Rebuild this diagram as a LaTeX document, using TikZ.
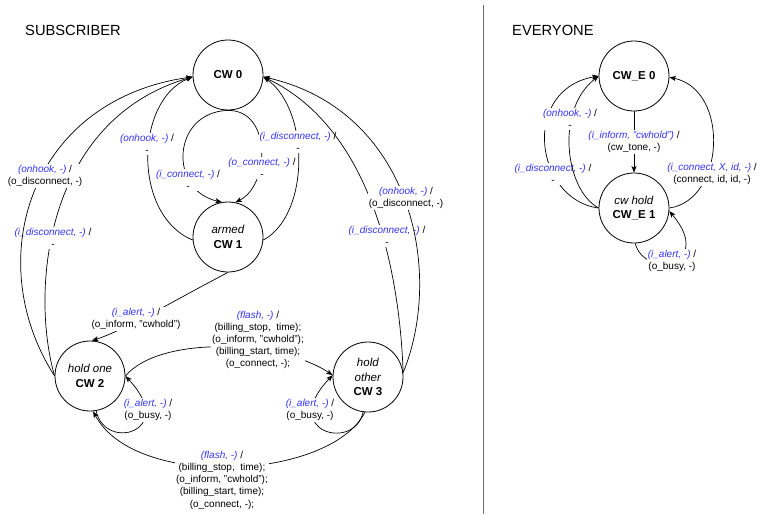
\documentclass[tikz,border=0pt]{standalone}
\usepackage{fontspec}
\setmainfont{Liberation Sans}
\usetikzlibrary{arrows.meta}
\definecolor{evblue}{RGB}{51,51,255}
\definecolor{sepgray}{RGB}{110,110,110}
% input event in blue italics, followed by the slash
\newcommand\inev[1]{\textcolor{evblue}{\itshape #1}\ /}

\begin{document}
\begin{tikzpicture}[x=1pt,y=-1pt,
  state/.style={circle,draw,line width=0.8pt,minimum size=70pt,inner sep=0pt,
    align=center,font=\fontsize{11.5}{14.5}\selectfont},
  trans/.style={draw,line width=0.7pt,-{Stealth[length=6.5pt,width=5pt,inset=1.5pt]}},
  lbl/.style={fill=white,inner sep=1pt,align=center,font=\fontsize{10}{12.2}\selectfont},
  title/.style={anchor=base west,inner sep=0pt,font=\fontsize{14.7}{17}\selectfont}]

\useasboundingbox (0,0) rectangle (762,515);

% headings and the separator between the two machines
\node[title] (tsub) at (25,35) {SUBSCRIBER};
\node[title] (tev) at (512,35) {EVERYONE};
\coordinate (septop) at (483,5);
\coordinate (sepbot) at (483,514);
\draw[sepgray,line width=1pt] (septop) -- (sepbot);

% ---------------- subscriber states
\node[state] (cw0) at (228,75) {\textbf{CW 0}};
\node[state] (cw1) at (228,237) {\textit{armed}\\\textbf{CW 1}};
\node[state] (cw2) at (90,376) {\textit{hold one}\\\textbf{CW 2}};
\node[state] (cw3) at (368,377) {\textit{hold}\\\textit{other}\\\textbf{CW 3}};

% CW 0 -> CW 1
\draw[trans] (cw0.south) .. controls (172,112) and (168,190) .. (cw1.100);
\node[lbl] (lic) at (188,180) {\inev{(i\_connect, -)}\\-};
\draw[trans] (cw0.south) .. controls (272,110) and (270,185) .. (cw1.78);
\node[lbl] (loc) at (262,168) {\inev{(o\_connect, -)}\\-};

% CW 1 -> CW 0
\draw[trans] (cw1.185) .. controls (132,215) and (135,100) .. (cw0.183);
\node[lbl] (lon1) at (147,144) {\inev{(onhook, -)}\\-};
\draw[trans] (cw1.355) .. controls (310,215) and (310,110) .. (cw0.357);
\node[lbl] (lid1) at (298,142) {\inev{(i\_disconnect, -)}\\-};

% CW 2 -> CW 0
\draw[trans] (cw2.180) .. controls (30,290) and (45,120) .. (cw0.183);
\node[lbl] (lid2) at (53,238) {\inev{(i\_disconnect, -)}\\-};
\draw[trans] (cw2.180) .. controls (-20,260) and (30,100) .. (cw0.183);
\node[lbl] (lon2) at (45,176) {\inev{(onhook, -)}\\(o\_disconnect, -)};

% CW 3 -> CW 0
\draw[trans] (cw3.7) .. controls (400,280) and (375,130) .. (cw0.357);
\node[lbl] (lid3) at (387,236) {\inev{(i\_disconnect, -)}\\-};
\draw[trans] (cw3.7) .. controls (445,270) and (410,110) .. (cw0.357);
\node[lbl] (lon3) at (406,198) {\inev{(onhook, -)}\\(o\_disconnect, -)};

% CW 1 -> CW 2
\draw[trans] (cw1.south) .. controls (175,300) and (125,330) .. (cw2.87);
\node[lbl] (lal1) at (136,319) {\inev{(i\_alert, -)}\\(o\_inform, "cwhold")};

% flash between the held calls
\draw[trans] (cw2.0) .. controls (160,335) and (280,340) .. (cw3.177);
\node[lbl] (lfl1) at (258,340) {\inev{(flash, -)}\\(billing\_stop,\ \ time);\\(o\_inform, "cwhold");\\(billing\_start, time);\\(o\_connect, -);};
\draw[trans] (cw3.265) .. controls (330,480) and (135,490) .. (cw2.275);
\node[lbl] (lfl2) at (222,480) {\inev{(flash, -)}\\(billing\_stop,\ \ time);\\(o\_inform, "cwhold");\\(billing\_start, time);\\(o\_connect, -);};

% busy self loops
\draw[trans] (cw2.280) .. controls (105,452) and (178,432) .. (cw2.0);
\node[lbl] (lal2) at (148,410) {\inev{(i\_alert, -)}\\(o\_busy, -)};
\draw[trans] (cw3.262) .. controls (355,452) and (278,432) .. (cw3.177);
\node[lbl] (lal3) at (310,410) {\inev{(i\_alert, -)}\\(o\_busy, -)};

% ---------------- everyone states
\node[state] (ce0) at (634,76) {\textbf{CW\_E 0}};
\node[state] (ce1) at (634,208) {\textit{cw hold}\\\textbf{CW\_E 1}};

\draw[trans] (ce0.south) -- (ce1.north);
\node[lbl] (lin) at (634,142) {\inev{(i\_inform, "cwhold")}\\(cw\_tone, -)};

\draw[trans] (ce1.180) .. controls (535,200) and (520,90) .. (ce0.180);
\node[lbl] (lide) at (553,174) {\inev{(i\_disconnect, -)}\\-};
\draw[trans] (ce1.180) .. controls (565,190) and (555,110) .. (ce0.180);
\node[lbl] (lone) at (570,119) {\inev{(onhook, -)}\\-};

\draw[trans] (ce1.0) .. controls (725,200) and (730,90) .. (ce0.358);
\node[lbl] (lice) at (712,174) {\inev{(i\_connect, X, id, -)}\\(connect, id, id, -)};

\draw[trans] (ce1.272) .. controls (645,280) and (715,265) .. (ce1.355);
\node[lbl] (lale) at (672,261) {\inev{(i\_alert, -)}\\(o\_busy, -)};

\end{tikzpicture}
\end{document}
